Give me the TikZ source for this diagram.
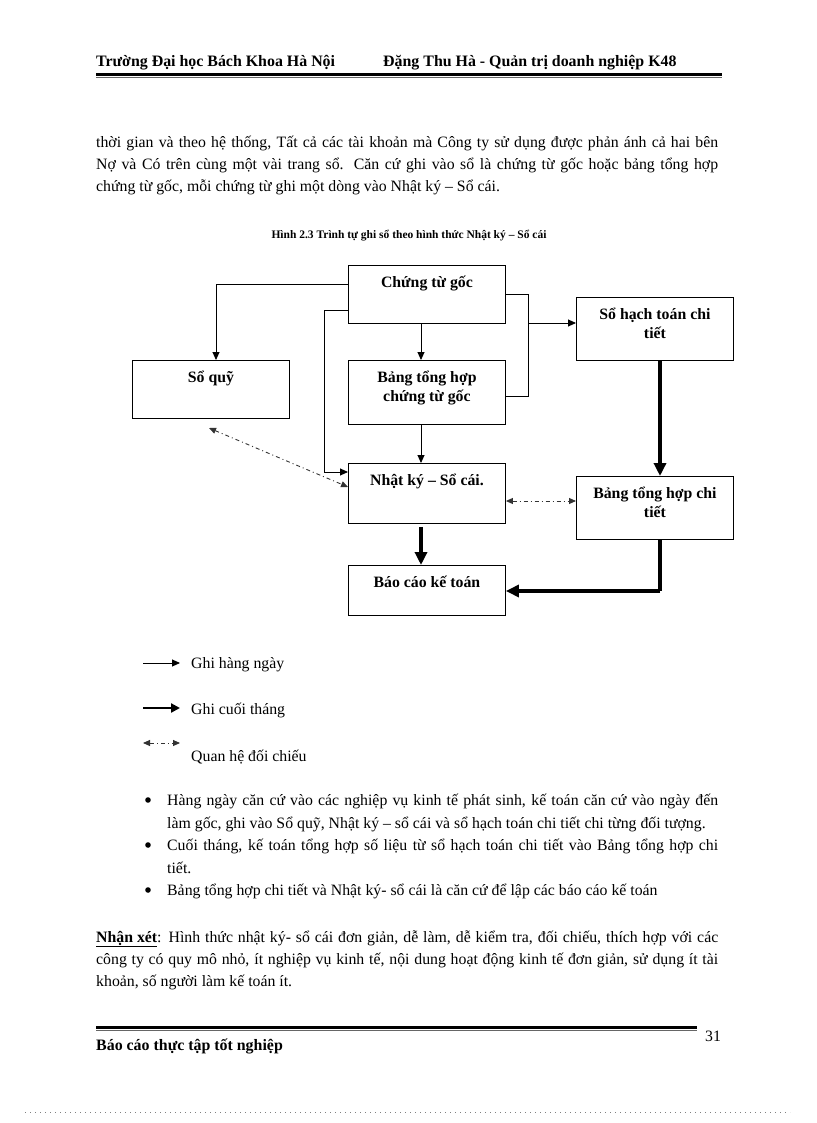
\documentclass[tikz,border=0pt]{standalone}
\usepackage{fontspec}
\setmainfont{Liberation Serif}
\usetikzlibrary{arrows.meta}
\newcommand\bodyfont{\fontsize{15.8}{22}\selectfont}
\newcommand\boxfont{\fontsize{15.8}{19.5}\selectfont\bfseries}
\newcommand\boxtext[3]{\parbox[c][#2][t]{#1}{\centering\boxfont\rule{0pt}{22pt}#3\par}}
\begin{document}
\begin{tikzpicture}[x=1pt,y=-1pt,
  txt/.style={anchor=base west,inner sep=0pt,font=\bodyfont},
  hdr/.style={anchor=base west,inner sep=0pt,font=\fontsize{15.9}{20}\selectfont\bfseries},
  fbox/.style={draw,line width=0.9pt,inner sep=0pt,anchor=north west},
  thin/.style={line width=0.9pt,-{Triangle[length=8pt,width=7pt]}},
  thick/.style={line width=4pt,-{Triangle[length=13pt,width=12pt]}},
  plain/.style={line width=0.9pt},
  dd/.style={line width=0.9pt,black!80,dash pattern=on 4pt off 3pt on 1pt off 3pt,{Triangle[length=7pt,width=6pt]}-{Triangle[length=7pt,width=6pt]}}]
\useasboundingbox (0,0) rectangle (816,1123);
% header
\node[hdr] (h1) at (96,67) {Trường Đại học Bách Khoa Hà Nội};
\node[hdr] (h2) at (383,67) {Đặng Thu Hà - Quản trị doanh nghiệp K48};
\draw[line width=3pt] (96,74.5) -- (722,74.5);
\draw[line width=1pt,black!60] (96,78) -- (722,78);
% paragraph
\node[txt] (p1) at (96,148) {\makebox[622pt][s]{thời gian và theo hệ thống, Tất cả các tài khoản mà Công ty sử dụng được phản ánh cả hai bên}};
\node[txt] (p2) at (96,170) {\makebox[622pt][s]{Nợ và Có trên cùng một vài trang sổ. Căn cứ ghi vào sổ là chứng từ gốc hoặc bảng tổng hợp}};
\node[txt] (p3) at (96,192) {chứng từ gốc, mỗi chứng từ ghi một dòng vào Nhật ký – Sổ cái.};
% caption
\node[anchor=base,inner sep=0pt,font=\fontsize{11.5}{14}\selectfont\bfseries] (cap) at (409,239) {Hình 2.3 Trình tự ghi sổ theo hình thức Nhật ký – Sổ cái};
% boxes
\node[fbox] (ctg) at (348,265) {\boxtext{157pt}{58pt}{Chứng từ gốc}};
\node[fbox] (sq) at (132,360) {\boxtext{157pt}{58pt}{Sổ quỹ}};
\node[fbox] (bth) at (348,360) {\boxtext{157pt}{64pt}{Bảng tổng hợp\\chứng từ gốc}};
\node[fbox] (sht) at (576,297) {\boxtext{157pt}{63pt}{Sổ hạch toán chi\\tiết}};
\node[fbox] (nk) at (348,463) {\boxtext{157pt}{60pt}{Nhật ký – Sổ cái.}};
\node[fbox] (bct) at (576,476) {\boxtext{157pt}{63pt}{Bảng tổng hợp chi\\tiết}};
\node[fbox] (bc) at (348,565) {\boxtext{157pt}{50pt}{Báo cáo kế toán}};
% waypoints
\coordinate (w1) at (216,284);
\coordinate (w2) at (324,310);
\coordinate (w3) at (324,472);
\coordinate (v) at (421,0);
\coordinate (r1) at (528,294);
\coordinate (r2) at (528,396);
\coordinate (r3) at (528,323);
\coordinate (t) at (660,0);
\coordinate (t2) at (660,591);
\coordinate (sqd) at (209,428);
\coordinate (nkd) at (348,487);
\coordinate (dd) at (0,501);
% connectors
\draw[thin] (ctg.west |- w1) -- (w1) -- (sq.north -| w1);
\draw[thin] (ctg.west |- w2) -- (w2) -- (w3) -- (nk.west |- w3);
\draw[thin] (ctg.south -| v) -- (bth.north -| v);
\draw[thin] (bth.south -| v) -- (nk.north -| v);
\draw[plain] (ctg.east |- r1) -- (r1) -- (r2) -- (bth.east |- r2);
\draw[thin] (r3) -- (sht.west |- r3);
\draw[thick] (sht.south -| t) -- (bct.north -| t);
\draw[thick] ([yshift=-3pt]nk.south -| v) -- (bc.north -| v);
\draw[thick,-] (bct.south -| t) -- (t2);
\draw[thick] (t2) -- (bc.east |- t2);
\draw[dd] (nk.east |- dd) -- (bct.west |- dd);
\draw[dd] (sqd) -- (nkd);
% legend
\coordinate (l1a) at (143,663); \coordinate (l1b) at (180,663);
\coordinate (l2a) at (143,708); \coordinate (l2b) at (180,708);
\coordinate (l3a) at (143,743); \coordinate (l3b) at (180,743);
\draw[line width=0.9pt,-{Triangle[length=8pt,width=7pt]}] (l1a) -- (l1b);
\draw[line width=2.8pt,-{Triangle[length=9pt,width=9pt]}] (l2a) -- (l2b);
\draw[dd] (l3a) -- (l3b);
\node[txt] (lg1) at (191,668) {Ghi hàng ngày};
\node[txt] (lg2) at (191,714) {Ghi cuối tháng};
\node[txt] (lg3) at (191,761) {Quan hệ đối chiếu};
% bullets
\fill (148,800) circle (2.8);
\fill (148,845) circle (2.8);
\fill (148,890) circle (2.8);
\node[txt] (b1) at (167,805) {\makebox[551pt][s]{Hàng ngày căn cứ vào các nghiệp vụ kinh tế phát sinh, kế toán căn cứ vào ngày đến}};
\node[txt] (b2) at (167,828) {làm gốc, ghi vào Sổ quỹ, Nhật ký – sổ cái và sổ hạch toán chi tiết chi từng đối tượng.};
\node[txt] (b3) at (167,850) {\makebox[551pt][s]{Cuối tháng, kế toán tổng hợp số liệu từ sổ hạch toán chi tiết vào Bảng tổng hợp chi}};
\node[txt] (b4) at (167,873) {tiết.};
\node[txt] (b5) at (167,895) {Bảng tổng hợp chi tiết và Nhật ký- sổ cái là căn cứ để lập các báo cáo kế toán};
% remark
\node[txt] (n1) at (96,942) {\makebox[622pt][s]{\underline{\textbf{Nhận xét}}: Hình thức nhật ký- sổ cái đơn giản, dễ làm, dễ kiểm tra, đối chiếu, thích hợp với các}};
\node[txt] (n2) at (96,964) {\makebox[622pt][s]{công ty có quy mô nhỏ, ít nghiệp vụ kinh tế, nội dung hoạt động kinh tế đơn giản, sử dụng ít tài}};
\node[txt] (n3) at (96,986) {khoản, số người làm kế toán ít.};
% footer
\draw[line width=3pt] (96,1027) -- (697,1027);
\draw[line width=1pt,black!60] (96,1030.5) -- (697,1030.5);
\node[txt] (pg) at (705,1041) {31};
\node[hdr] (ft) at (96,1050) {Báo cáo thực tập tốt nghiệp};
\draw[black!50,line width=0.8pt,dash pattern=on 1pt off 4pt] (25,1112) -- (790,1112);
\end{tikzpicture}
\end{document}
